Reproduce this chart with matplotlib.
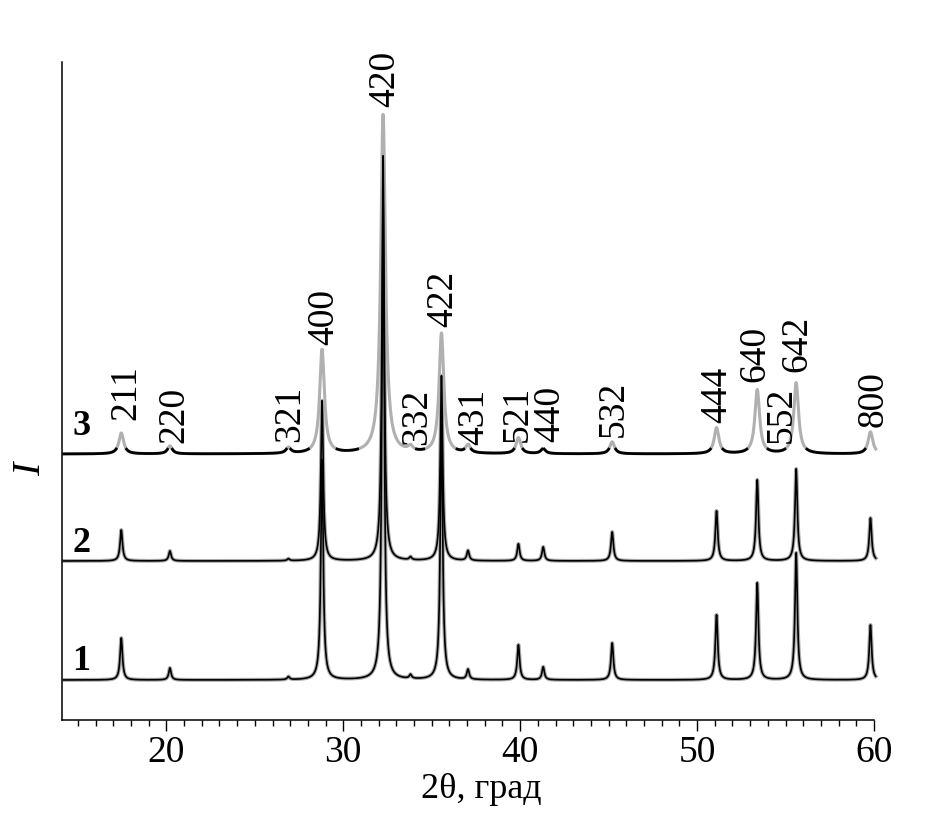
import numpy as np
import matplotlib
matplotlib.use("Agg")
import matplotlib.pyplot as plt

plt.rcParams['font.family'] = ['Liberation Serif', 'DejaVu Serif']

# ---- data ----
hkl = ['211', '220', '321', '400', '420', '332', '422', '431', '521', '440',
       '532', '444', '640', '552', '642', '800']
peak_pos = [17.45, 20.2, 26.9, 28.8, 32.25, 33.8, 35.55, 37.05, 39.9, 41.3,
            45.2, 51.1, 53.4, 54.3, 55.6, 59.8]
# peak heights above baseline (arbitrary units)
h1 = [42, 12, 3, 220, 480, 4, 260, 10, 35, 13, 37, 65, 97, 0, 127, 55]
h2 = [31, 10, 2, 160, 405, 3, 185, 10, 17, 14, 29, 50, 81, 0, 92, 43]
h3 = [21, 8, 6, 104, 339, 5, 120, 8, 16, 5, 12, 26, 64, 0, 71, 22]
baselines = [40, 159, 266]
fwhm = [0.16, 0.16, 0.32]
curve_labels = ['1', '2', '3']
curve_label_y = [50, 168, 285]

# label positions (x, y) of the hkl annotations
label_x = [17.63, 20.34, 26.89, 28.81, 32.26, 34.07, 35.54, 37.29, 39.72, 41.58,
           45.2, 51.02, 53.16, 54.69, 55.54, 59.89]
label_y = [300, 277, 278, 375, 613, 275, 393, 275, 278, 278, 283, 297, 338, 277,
           348, 293]

xticks = [20, 30, 40, 50, 60]

# ---- figure ----
fig = plt.figure(figsize=(9.44, 8.21), dpi=100)
ax = fig.add_axes([62 / 944, (821 - 720) / 821, (874 - 62) / 944, (720 - 62) / 821])

x = np.arange(14.2, 60.1, 0.01)


def profile(heights, width, base):
    y = np.full_like(x, float(base))
    g = width / 2.0
    for p, h in zip(peak_pos, heights):
        y += h * g ** 2 / ((x - p) ** 2 + g ** 2)
    return y


for i, (hs, base, w) in enumerate(zip([h1, h2, h3], baselines, fwhm)):
    y = profile(hs, w, base)
    if i < 2:
        ax.plot(x, y, color='#ababab', lw=2.8, clip_on=False, zorder=2)
        ax.plot(x, y, color='black', lw=1.2, clip_on=False, zorder=3)
    else:
        ax.plot(x, y, color='#b0b0b0', lw=2.2, clip_on=False, zorder=2)
        yb = np.where(y - base < 5, y, np.nan)
        ax.plot(x, yb, color='black', lw=2.0, clip_on=False, zorder=3)

for lab, ly in zip(curve_labels, curve_label_y):
    ax.text(15.2, ly, lab, fontsize=26, fontweight='bold', ha='center',
            va='baseline')

for lab, lx, ly in zip(hkl, label_x, label_y):
    ax.text(lx + 0.1, ly, lab, rotation=90, fontsize=27, ha='center',
            va='bottom')

ax.set_xlim(14.1, 60)
ax.set_ylim(0, 658)
ax.spines['top'].set_visible(False)
ax.spines['right'].set_visible(False)
ax.spines['left'].set_linewidth(1.1)
ax.spines['bottom'].set_linewidth(1.1)
ax.set_yticks([])
ax.set_xticks(xticks)
ax.set_xticks(np.arange(15, 60, 1), minor=True)
ax.tick_params(axis='x', which='major', direction='out', length=8, width=1.0,
               labelsize=27, pad=3)
ax.tick_params(axis='x', which='minor', direction='out', length=4.5, width=1.0)

ax.set_xlabel('2θ, град', fontsize=26)
ax.xaxis.set_label_coords(0.516, -0.08)
ax.set_ylabel('I', fontsize=29, style='italic')
ax.yaxis.set_label_coords(-0.039, 0.381)
ax.yaxis.label.set_verticalalignment('center')

fig.savefig('out.png', dpi=100)
